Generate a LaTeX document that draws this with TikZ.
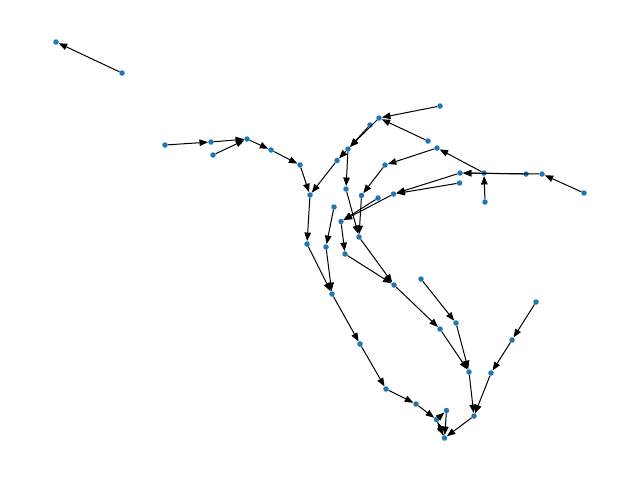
\documentclass[tikz,border=0pt]{standalone}
\usetikzlibrary{arrows.meta}
\definecolor{nodeblue}{HTML}{1F77B4}
\tikzset{
  dot/.style={circle,fill=nodeblue,draw=none,inner sep=0pt,minimum size=5.5pt},
  edge/.style={draw=black,line width=1pt,-{Triangle[length=8.5pt,width=6.5pt]}}
}
\begin{document}
\begin{tikzpicture}[x=1pt,y=-1pt]
\useasboundingbox (0,0) rectangle (640,480);
% nodes
\node[dot] (a) at (56,42) {};
\node[dot] (b) at (122,73) {};
\node[dot] (c) at (165,145) {};
\node[dot] (d) at (211,142) {};
\node[dot] (e) at (213,155) {};
\node[dot] (f) at (247,139) {};
\node[dot] (g) at (271,150) {};
\node[dot] (h) at (300,165) {};
\node[dot] (i) at (310,195) {};
\node[dot] (j) at (307,244) {};
\node[dot] (k) at (332,294) {};
\node[dot] (l) at (360,344) {};
\node[dot] (m) at (386,389) {};
\node[dot] (n) at (416,404) {};
\node[dot] (o) at (436.5,419.5) {};
\node[dot] (p) at (446.5,410.5) {};
\node[dot] (q) at (444.5,438) {};
\node[dot] (r) at (474,416) {};
\node[dot] (s) at (469,372) {};
\node[dot] (t) at (491,373) {};
\node[dot] (u) at (512,340) {};
\node[dot] (v) at (536,302) {};
\node[dot] (w) at (421,279) {};
\node[dot] (x) at (456,323) {};
\node[dot] (y) at (440,329) {};
\node[dot] (z) at (394,285) {};
\node[dot] (n359) at (359,237) {};
\node[dot] (n345) at (345,254) {};
\node[dot] (n326) at (326,247) {};
\node[dot] (n334) at (334,207) {};
\node[dot] (n341) at (341,221.5) {};
\node[dot] (n346) at (346,189) {};
\node[dot] (n361) at (361.5,195.5) {};
\node[dot] (n378) at (378,198) {};
\node[dot] (n393) at (393.5,194) {};
\node[dot] (n385) at (385,165) {};
\node[dot] (n437) at (437,148) {};
\node[dot] (n428) at (428,141) {};
\node[dot] (n440) at (440,106) {};
\node[dot] (n379) at (379,118) {};
\node[dot] (n370) at (370,125) {};
\node[dot] (n348) at (348,149) {};
\node[dot] (n337) at (337,160.5) {};
\node[dot] (n460a) at (460,173) {};
\node[dot] (n460b) at (459.5,183) {};
\node[dot] (n484) at (484,173) {};
\node[dot] (n485) at (485,202) {};
\node[dot] (n526) at (526,174) {};
\node[dot] (n542) at (542,174) {};
\node[dot] (n584) at (584,193) {};
% edges
\draw[edge] (b) -- (a);
\draw[edge] (c) -- (d);
\draw[edge] (d) -- (f);
\draw[edge] (e) -- (f);
\draw[edge] (f) -- (g);
\draw[edge] (g) -- (h);
\draw[edge] (h) -- (i);
\draw[edge] (i) -- (j);
\draw[edge] (j) -- (k);
\draw[edge] (n326) -- (k);
\draw[edge] (k) -- (l);
\draw[edge] (l) -- (m);
\draw[edge] (m) -- (n);
\draw[edge] (n) -- (o);
\draw[edge] (o) -- (p);
\draw[edge] (p) -- (q);
\draw[edge] (q) -- (o);
\draw[edge] (o) -- (q);
\draw[edge] (r) -- (q);
\draw[edge] (s) -- (r);
\draw[edge] (t) -- (r);
\draw[edge] (v) -- (u);
\draw[edge] (u) -- (t);
\draw[edge] (w) -- (x);
\draw[edge] (x) -- (s);
\draw[edge] (y) -- (s);
\draw[edge] (z) -- (y);
\draw[edge] (n345) -- (z);
\draw[edge] (n359) -- (z);
\draw[edge] (n341) -- (n345);
\draw[edge] (n334) -- (n326);
\draw[edge] (n346) -- (n359);
\draw[edge] (n361) -- (n359);
\draw[edge] (n385) -- (n361);
\draw[edge] (n437) -- (n385);
\draw[edge] (n484) -- (n437);
\draw[edge] (n485) -- (n484);
\draw[edge] (n542) -- (n460a);
\draw[edge] (n526) -- (n460a);
\draw[edge] (n584) -- (n542);
\draw[edge] (n460a) -- (n393);
\draw[edge] (n460b) -- (n393);
\draw[edge] (n393) -- (n341);
\draw[edge] (n378) -- (n341);
\draw[edge] (n348) -- (n346);
\draw[edge] (n337) -- (i);
\draw[edge] (n348) -- (n337);
\draw[edge] (n379) -- (n348);
\draw[edge] (n370) -- (n348);
\draw[edge] (n440) -- (n379);
\draw[edge] (n428) -- (n379);
\end{tikzpicture}
\end{document}
